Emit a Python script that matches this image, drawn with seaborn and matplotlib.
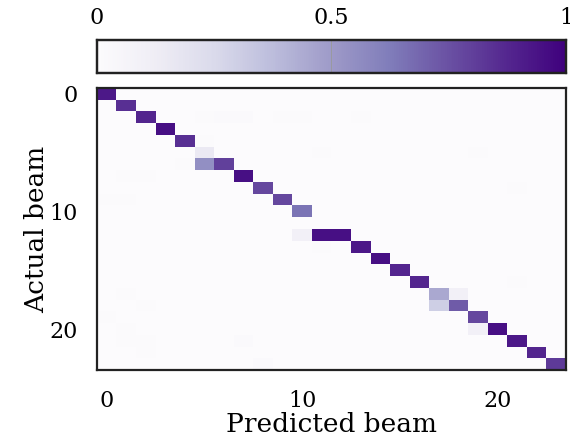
import numpy as np
import matplotlib
matplotlib.use("Agg")
import matplotlib.pyplot as plt
import seaborn as sns

n_beams = 24

# strong cells (actual row, predicted col, share)
main_rows = [0, 1, 2, 3, 4, 5, 6, 6, 7, 8, 9, 10, 12, 12, 12, 13, 14, 15, 16, 17, 17, 18, 18, 19, 20, 20, 21, 22, 23]
main_cols = [0, 1, 2, 3, 4, 5, 5, 6, 7, 8, 9, 10, 10, 11, 12, 13, 14, 15, 16, 17, 18, 17, 18, 19, 19, 20, 21, 22, 23]
main_vals = [0.92, 0.85, 0.88, 0.95, 0.85, 0.15, 0.55, 0.80, 0.95, 0.78, 0.78, 0.65, 0.10, 0.95, 0.95,
             0.92, 0.95, 0.88, 0.88, 0.45, 0.10, 0.30, 0.72, 0.78, 0.10, 0.95, 0.92, 0.88, 0.82]

# faint background confusions
faint_rows = [2, 2, 2, 2, 2, 2, 4, 6, 7, 7, 9, 9, 5, 5, 17, 18, 19, 20, 21, 21, 21, 22, 23, 16, 13, 8]
faint_cols = [5, 6, 7, 9, 10, 13, 5, 4, 1, 2, 1, 0, 11, 19, 1, 2, 0, 1, 1, 2, 7, 2, 8, 21, 11, 21]
faint_vals = [0.015, 0.02, 0.02, 0.015, 0.015, 0.015, 0.015, 0.015, 0.015, 0.015, 0.015, 0.015, 0.01, 0.01,
              0.01, 0.01, 0.015, 0.015, 0.015, 0.015, 0.02, 0.01, 0.02, 0.01, 0.01, 0.01]

cm = np.zeros((n_beams, n_beams))
cm[main_rows, main_cols] = main_vals
cm[faint_rows, faint_cols] = faint_vals

plt.rcParams['font.family'] = ['DejaVu Serif']

fig = plt.figure(figsize=(5.7, 4.46), dpi=100)
ax = fig.add_axes([0.170, 0.170, 0.823, 0.633])
cax = fig.add_axes([0.170, 0.836, 0.823, 0.074])

sns.heatmap(cm, ax=ax, cmap="Purples", vmin=0, vmax=1, cbar_ax=cax,
            cbar_kws={"orientation": "horizontal", "ticks": [0, 0.5, 1]},
            xticklabels=False, yticklabels=False)

ticks = [0, 10, 20]
ax.set_xticks([t + 0.5 for t in ticks])
ax.set_xticklabels([str(t) for t in ticks], fontsize=16)
ax.set_yticks([t + 0.5 for t in ticks])
ax.set_yticklabels([str(t) for t in ticks], fontsize=16, rotation=0)
ax.tick_params(length=0, pad=14)
ax.set_xlabel("Predicted beam", fontsize=19, labelpad=0)
ax.set_ylabel("Actual beam", fontsize=19, labelpad=0)
for s in ax.spines.values():
    s.set_visible(True)
    s.set_linewidth(1.6)
    s.set_color("#222222")

cax.xaxis.set_ticks_position("top")
cax.set_xticklabels(["0", "0.5", "1"], fontsize=16)
cax.tick_params(direction="in", length=23.5, width=0.6, color="#999999", pad=8)
for s in cax.spines.values():
    s.set_visible(True)
    s.set_linewidth(1.6)
    s.set_color("#222222")

fig.savefig("out.png", dpi=100)
